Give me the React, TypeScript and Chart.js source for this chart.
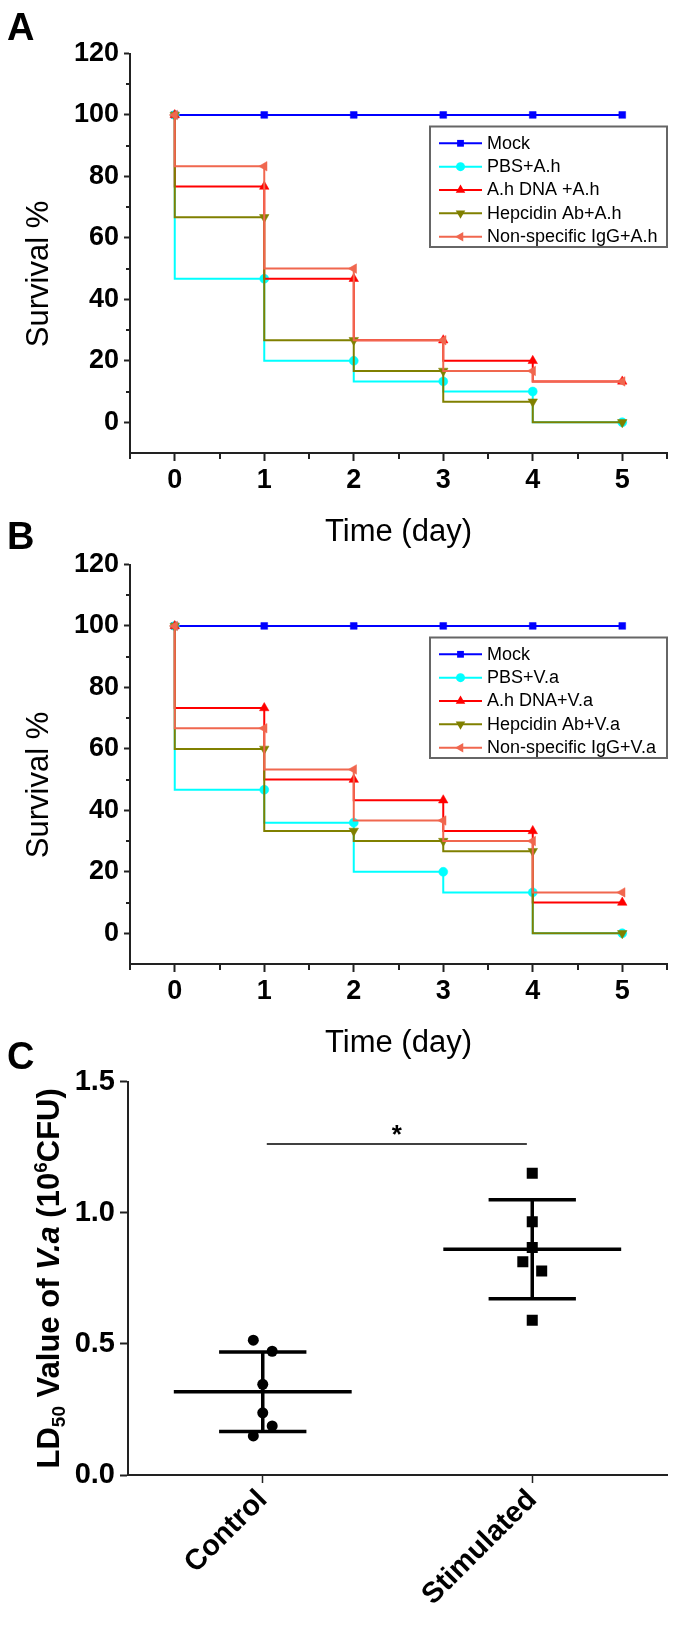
import React, { useEffect, useRef } from 'react';
import { Chart, registerables } from 'chart.js';

Chart.register(...registerables);

const FONT = "'Liberation Sans', Arial, Helvetica, sans-serif";
const AXIS = '#222222';

// ---------- Panel A / B data ----------
const DAYS = [0, 1, 2, 3, 4, 5];
const SURVIVAL_TICKS = [0, 20, 40, 60, 80, 100, 120];

const A_LABELS = ['Mock', 'PBS+A.h', 'A.h DNA +A.h', 'Hepcidin Ab+A.h', 'Non-specific IgG+A.h'];
const A_MOCK = [100, 100, 100, 100, 100, 100];
const A_PBS = [100, 46.7, 20, 13.3, 10, 0];
const A_DNA = [100, 76.7, 46.7, 26.7, 20, 13.3];
const A_HEP = [100, 66.7, 26.7, 16.7, 6.7, 0];
const A_IGG = [100, 83.3, 50, 26.7, 16.7, 13.3];

const B_LABELS = ['Mock', 'PBS+V.a', 'A.h DNA+V.a', 'Hepcidin Ab+V.a', 'Non-specific IgG+V.a'];
const B_MOCK = [100, 100, 100, 100, 100, 100];
const B_PBS = [100, 46.7, 36, 20, 13.3, 0];
const B_DNA = [100, 73.3, 50, 43.3, 33.3, 10];
const B_HEP = [100, 60, 33.3, 30, 26.7, 0];
const B_IGG = [100, 66.7, 53.3, 36.7, 30, 13.3];

// ---------- Panel C data ----------
const C_CATEGORIES = ['Control', 'Stimulated'];
const C_CONTROL = [0.514, 0.472, 0.346, 0.237, 0.187, 0.149];
const C_STIM = [1.151, 0.966, 0.868, 0.813, 0.778, 0.59];
const C_CONTROL_JITTER = [-0.035, 0.035, 0, 0, 0.035, -0.035];
const C_STIM_JITTER = [0, 0, 0, -0.035, 0.035, 0];
const C_Y_TICKS = [0, 0.5, 1.0, 1.5];
const C_SIG_FROM = 0.015;
const C_SIG_TO = 0.98;
const C_SIG_Y = 1.262;

// ---------- styles ----------
const SURV_STYLES = [
  { color: '#0000FF', shape: 'rect', radius: 4.8, rotation: 0 },
  { color: '#00FFFF', shape: 'circle', radius: 4.5, rotation: 0 },
  { color: '#FF0000', shape: 'triangle', radius: 5.5, rotation: 0 },
  { color: '#808000', shape: 'triangle', radius: 5.5, rotation: 180 },
  { color: '#F0674F', shape: 'triangle', radius: 5.5, rotation: 270 },
];
const MEAN_HALF = 0.33;
const CAP_HALF = 0.162;

const isInt = (v: number) => Math.abs(v - Math.round(v)) < 1e-6;

function drawMarker(ctx: CanvasRenderingContext2D, shape: string, x: number, y: number, r: number, rot: number, color: string) {
  ctx.save();
  ctx.translate(x, y);
  ctx.rotate((rot * Math.PI) / 180);
  ctx.fillStyle = color;
  ctx.beginPath();
  if (shape === 'rect') {
    const s = r * Math.SQRT1_2;
    ctx.rect(-s, -s, 2 * s, 2 * s);
  } else if (shape === 'circle') {
    ctx.arc(0, 0, r, 0, Math.PI * 2);
  } else {
    for (let k = 0; k < 3; k++) {
      const a = (k * 2 * Math.PI) / 3;
      const px = Math.sin(a) * r;
      const py = -Math.cos(a) * r;
      if (k === 0) ctx.moveTo(px, py);
      else ctx.lineTo(px, py);
    }
    ctx.closePath();
  }
  ctx.fill();
  ctx.restore();
}

function survivalDecor(letter: string, letterY: number, labels: string[]) {
  return {
    id: 'decor' + letter,
    afterDraw(chart: any) {
      const ctx: CanvasRenderingContext2D = chart.ctx;
      const xs = chart.scales.x;
      const ys = chart.scales.y;
      const area = chart.chartArea;
      ctx.save();
      // minor ticks
      ctx.strokeStyle = AXIS;
      ctx.lineWidth = 2;
      xs.ticks.forEach((t: any) => {
        if (!DAYS.includes(t.value)) {
          const px = Math.round(xs.getPixelForValue(t.value));
          ctx.beginPath();
          ctx.moveTo(px, area.bottom);
          ctx.lineTo(px, area.bottom + 6);
          ctx.stroke();
        }
      });
      ys.ticks.forEach((t: any) => {
        if (!SURVIVAL_TICKS.includes(t.value) && t.value > ys.min) {
          const py = Math.round(ys.getPixelForValue(t.value));
          ctx.beginPath();
          ctx.moveTo(area.left, py);
          ctx.lineTo(area.left - 4, py);
          ctx.stroke();
        }
      });
      ctx.fillStyle = '#000';
      // panel letter
      ctx.font = `bold 38px ${FONT}`;
      ctx.textAlign = 'left';
      ctx.textBaseline = 'alphabetic';
      ctx.fillText(letter, 7, letterY);
      // x title
      ctx.font = `31px ${FONT}`;
      ctx.textAlign = 'center';
      ctx.fillText('Time (day)', (area.left + area.right) / 2, 541);
      // y title
      ctx.save();
      ctx.translate(39, 274);
      ctx.rotate(-Math.PI / 2);
      ctx.textBaseline = 'middle';
      ctx.fillText('Survival %', 0, 0);
      ctx.restore();
      // legend
      const bx = 430, by = 126.5, bw = 237, bh = 120.5;
      ctx.fillStyle = '#fff';
      ctx.fillRect(bx, by, bw, bh);
      ctx.strokeStyle = '#666';
      ctx.lineWidth = 2;
      ctx.strokeRect(bx, by, bw, bh);
      ctx.font = `18px ${FONT}`;
      ctx.textAlign = 'left';
      ctx.textBaseline = 'middle';
      labels.forEach((lab, i) => {
        const st = SURV_STYLES[i];
        const y = 143.3 + i * 23.35;
        ctx.strokeStyle = st.color;
        ctx.lineWidth = 2;
        ctx.beginPath();
        ctx.moveTo(439, y);
        ctx.lineTo(482, y);
        ctx.stroke();
        drawMarker(ctx, st.shape, 460.5, y, st.radius, st.rotation, st.color);
        ctx.fillStyle = '#000';
        ctx.fillText(lab, 487, y + 0.5);
      });
      ctx.restore();
    },
  };
}

function survivalConfig(labels: string[], series: number[][], letter: string, letterY: number): any {
  const datasets = series.map((vals, i) => {
    const st = SURV_STYLES[i];
    return {
      label: labels[i],
      data: DAYS.map((d, j) => ({ x: d, y: vals[j] })),
      borderColor: st.color,
      backgroundColor: st.color,
      borderWidth: 2,
      stepped: 'after',
      fill: false,
      pointStyle: st.shape,
      pointRadius: st.radius,
      pointRotation: st.rotation,
      pointBackgroundColor: st.color,
      pointBorderColor: st.color,
      pointBorderWidth: 0.5,
      order: series.length - 1 - i,
    };
  });
  const tickFont = { family: FONT, size: 27, weight: 'bold' as const };
  return {
    type: 'line',
    data: { datasets },
    options: {
      animation: false,
      responsive: false,
      maintainAspectRatio: false,
      events: [],
      layout: { padding: { top: 53.5, right: 8, bottom: 0, left: 0 } },
      plugins: { legend: { display: false }, tooltip: { enabled: false }, title: { display: false } },
      scales: {
        x: {
          type: 'linear',
          min: -0.5,
          max: 5.5,
          afterFit: (s: any) => {
            s.height = 107;
          },
          ticks: {
            stepSize: 0.5,
            autoSkip: false,
            maxRotation: 0,
            minRotation: 0,
            padding: 3,
            color: '#000',
            font: tickFont,
            callback: (v: number) => (DAYS.includes(v) ? String(v) : ''),
          },
          grid: {
            display: true,
            drawOnChartArea: false,
            drawTicks: true,
            tickLength: 8,
            tickWidth: 2,
            tickColor: (c: any) => (c.tick && isInt(c.tick.value) ? AXIS : 'rgba(0,0,0,0)'),
          },
          border: { display: true, color: AXIS, width: 2 },
        },
        y: {
          type: 'linear',
          min: -10,
          max: 120,
          afterFit: (s: any) => {
            s.width = 130;
          },
          ticks: {
            stepSize: 10,
            autoSkip: false,
            padding: 5,
            color: '#000',
            font: tickFont,
            callback: (v: number) => (SURVIVAL_TICKS.includes(v) ? String(v) : ''),
          },
          grid: {
            display: true,
            drawOnChartArea: false,
            drawTicks: true,
            tickLength: 6,
            tickWidth: 2,
            tickColor: (c: any) => (c.tick && SURVIVAL_TICKS.includes(c.tick.value) ? AXIS : 'rgba(0,0,0,0)'),
          },
          border: { display: true, color: AXIS, width: 2 },
        },
      },
    },
    plugins: [survivalDecor(letter, letterY, labels)],
  };
}

const mean = (a: number[]) => a.reduce((s, v) => s + v, 0) / a.length;
const sd = (a: number[]) => {
  const m = mean(a);
  return Math.sqrt(a.reduce((s, v) => s + (v - m) * (v - m), 0) / (a.length - 1));
};

const cDecor = {
  id: 'decorC',
  afterDraw(chart: any) {
    const ctx: CanvasRenderingContext2D = chart.ctx;
    const xs = chart.scales.x;
    const ys = chart.scales.y;
    const area = chart.chartArea;
    ctx.save();
    ctx.fillStyle = '#000';
    ctx.font = `bold 38px ${FONT}`;
    ctx.textAlign = 'left';
    ctx.textBaseline = 'alphabetic';
    ctx.fillText('C', 7, 69);

    // asterisk
    ctx.font = `bold 26px ${FONT}`;
    const m = ctx.measureText('*');
    const cx = xs.getPixelForValue((C_SIG_FROM + C_SIG_TO) / 2);
    const cy = ys.getPixelForValue(C_SIG_Y) - 14;
    ctx.textAlign = 'center';
    ctx.fillText('*', cx, cy + (m.actualBoundingBoxAscent - m.actualBoundingBoxDescent) / 2);

    // y title with sub/superscript and italic
    const big = 31;
    const small = 19;
    const segs = [
      { t: 'LD', f: `bold ${big}px ${FONT}`, dy: 0 },
      { t: '50', f: `bold ${small}px ${FONT}`, dy: 6 },
      { t: ' Value of ', f: `bold ${big}px ${FONT}`, dy: 0 },
      { t: 'V.a', f: `italic bold ${big}px ${FONT}`, dy: 0 },
      { t: ' (10', f: `bold ${big}px ${FONT}`, dy: 0 },
      { t: '6', f: `bold ${small}px ${FONT}`, dy: -12 },
      { t: 'CFU)', f: `bold ${big}px ${FONT}`, dy: 0 },
    ];
    let total = 0;
    const widths = segs.map((s) => {
      ctx.font = s.f;
      const w = ctx.measureText(s.t).width;
      total += w;
      return w;
    });
    ctx.save();
    ctx.translate(58.5, (area.top + area.bottom) / 2);
    ctx.rotate(-Math.PI / 2);
    ctx.textAlign = 'left';
    ctx.textBaseline = 'alphabetic';
    let x = -total / 2;
    segs.forEach((s, i) => {
      ctx.font = s.f;
      ctx.fillText(s.t, x, s.dy);
      x += widths[i];
    });
    ctx.restore();
    ctx.restore();
  },
};

function cConfig(): any {
  const groups = [
    { vals: C_CONTROL, jit: C_CONTROL_JITTER, shape: 'circle', r: 5.5 },
    { vals: C_STIM, jit: C_STIM_JITTER, shape: 'rect', r: 7.8 },
  ];
  const lineDs = (pts: { x: number; y: number }[], w: number) => ({
    data: pts,
    showLine: true,
    borderColor: '#000',
    backgroundColor: '#000',
    borderWidth: w,
    pointRadius: 0,
    borderCapStyle: 'butt',
  });
  const datasets: any[] = [];
  groups.forEach((g, gi) => {
    const m = mean(g.vals);
    const s = sd(g.vals);
    datasets.push(lineDs([{ x: gi - MEAN_HALF, y: m }, { x: gi + MEAN_HALF, y: m }], 3.5));
    datasets.push(lineDs([{ x: gi - CAP_HALF, y: m + s }, { x: gi + CAP_HALF, y: m + s }], 3.5));
    datasets.push(lineDs([{ x: gi - CAP_HALF, y: m - s }, { x: gi + CAP_HALF, y: m - s }], 3.5));
    datasets.push(lineDs([{ x: gi, y: m - s }, { x: gi, y: m + s }], 3.5));
    datasets.push({
      data: g.vals.map((v, j) => ({ x: gi + g.jit[j], y: v })),
      showLine: false,
      pointStyle: g.shape,
      pointRadius: g.r,
      pointBackgroundColor: '#000',
      pointBorderColor: '#000',
      pointBorderWidth: 0,
    });
  });
  datasets.push(lineDs([{ x: C_SIG_FROM, y: C_SIG_Y }, { x: C_SIG_TO, y: C_SIG_Y }], 1.5));
  const tickFont = { family: FONT, size: 29, weight: 'bold' as const };
  return {
    type: 'scatter',
    data: { datasets },
    options: {
      animation: false,
      responsive: false,
      maintainAspectRatio: false,
      events: [],
      layout: { padding: { top: 81.7, right: 8, bottom: 0, left: 0 } },
      plugins: { legend: { display: false }, tooltip: { enabled: false } },
      scales: {
        x: {
          type: 'linear',
          min: -0.5,
          max: 1.5,
          afterBuildTicks: (s: any) => {
            s.ticks = C_CATEGORIES.map((_, i) => ({ value: i }));
          },
          afterFit: (s: any) => {
            s.height = 151;
          },
          ticks: {
            autoSkip: false,
            minRotation: 45,
            maxRotation: 45,
            padding: 0,
            color: '#000',
            font: tickFont,
            callback: (v: number) => C_CATEGORIES[v] ?? '',
          },
          grid: { display: true, drawOnChartArea: false, drawTicks: true, tickLength: 8, tickWidth: 1.5, tickColor: AXIS },
          border: { display: true, color: AXIS, width: 2 },
        },
        y: {
          type: 'linear',
          min: 0,
          max: 1.5,
          afterBuildTicks: (s: any) => {
            s.ticks = C_Y_TICKS.map((v) => ({ value: v }));
          },
          afterFit: (s: any) => {
            s.width = 128;
          },
          ticks: {
            autoSkip: false,
            padding: 5,
            color: '#000',
            font: tickFont,
            callback: (v: number) => Number(v).toFixed(1),
          },
          grid: { display: true, drawOnChartArea: false, drawTicks: true, tickLength: 8, tickWidth: 2, tickColor: AXIS },
          border: { display: true, color: AXIS, width: 2 },
        },
      },
    },
    plugins: [cDecor],
  };
}

export default function App() {
  const refA = useRef<HTMLCanvasElement>(null);
  const refB = useRef<HTMLCanvasElement>(null);
  const refC = useRef<HTMLCanvasElement>(null);

  useEffect(() => {
    const charts = [
      new Chart(refA.current as HTMLCanvasElement, survivalConfig(A_LABELS, [A_MOCK, A_PBS, A_DNA, A_HEP, A_IGG], 'A', 40)),
      new Chart(refB.current as HTMLCanvasElement, survivalConfig(B_LABELS, [B_MOCK, B_PBS, B_DNA, B_HEP, B_IGG], 'B', 37.5)),
      new Chart(refC.current as HTMLCanvasElement, cConfig()),
    ];
    return () => charts.forEach((c) => c.destroy());
  }, []);

  return (
    <div style={{ position: 'absolute', left: 0, top: 0, width: 675, height: 1626, background: '#fff', overflow: 'hidden' }}>
      <canvas ref={refA} width={675} height={560} style={{ position: 'absolute', left: 0, top: 0, width: 675, height: 560 }} />
      <canvas ref={refB} width={675} height={560} style={{ position: 'absolute', left: 0, top: 511, width: 675, height: 560 }} />
      <canvas ref={refC} width={675} height={626} style={{ position: 'absolute', left: 0, top: 1000, width: 675, height: 626 }} />
    </div>
  );
}
